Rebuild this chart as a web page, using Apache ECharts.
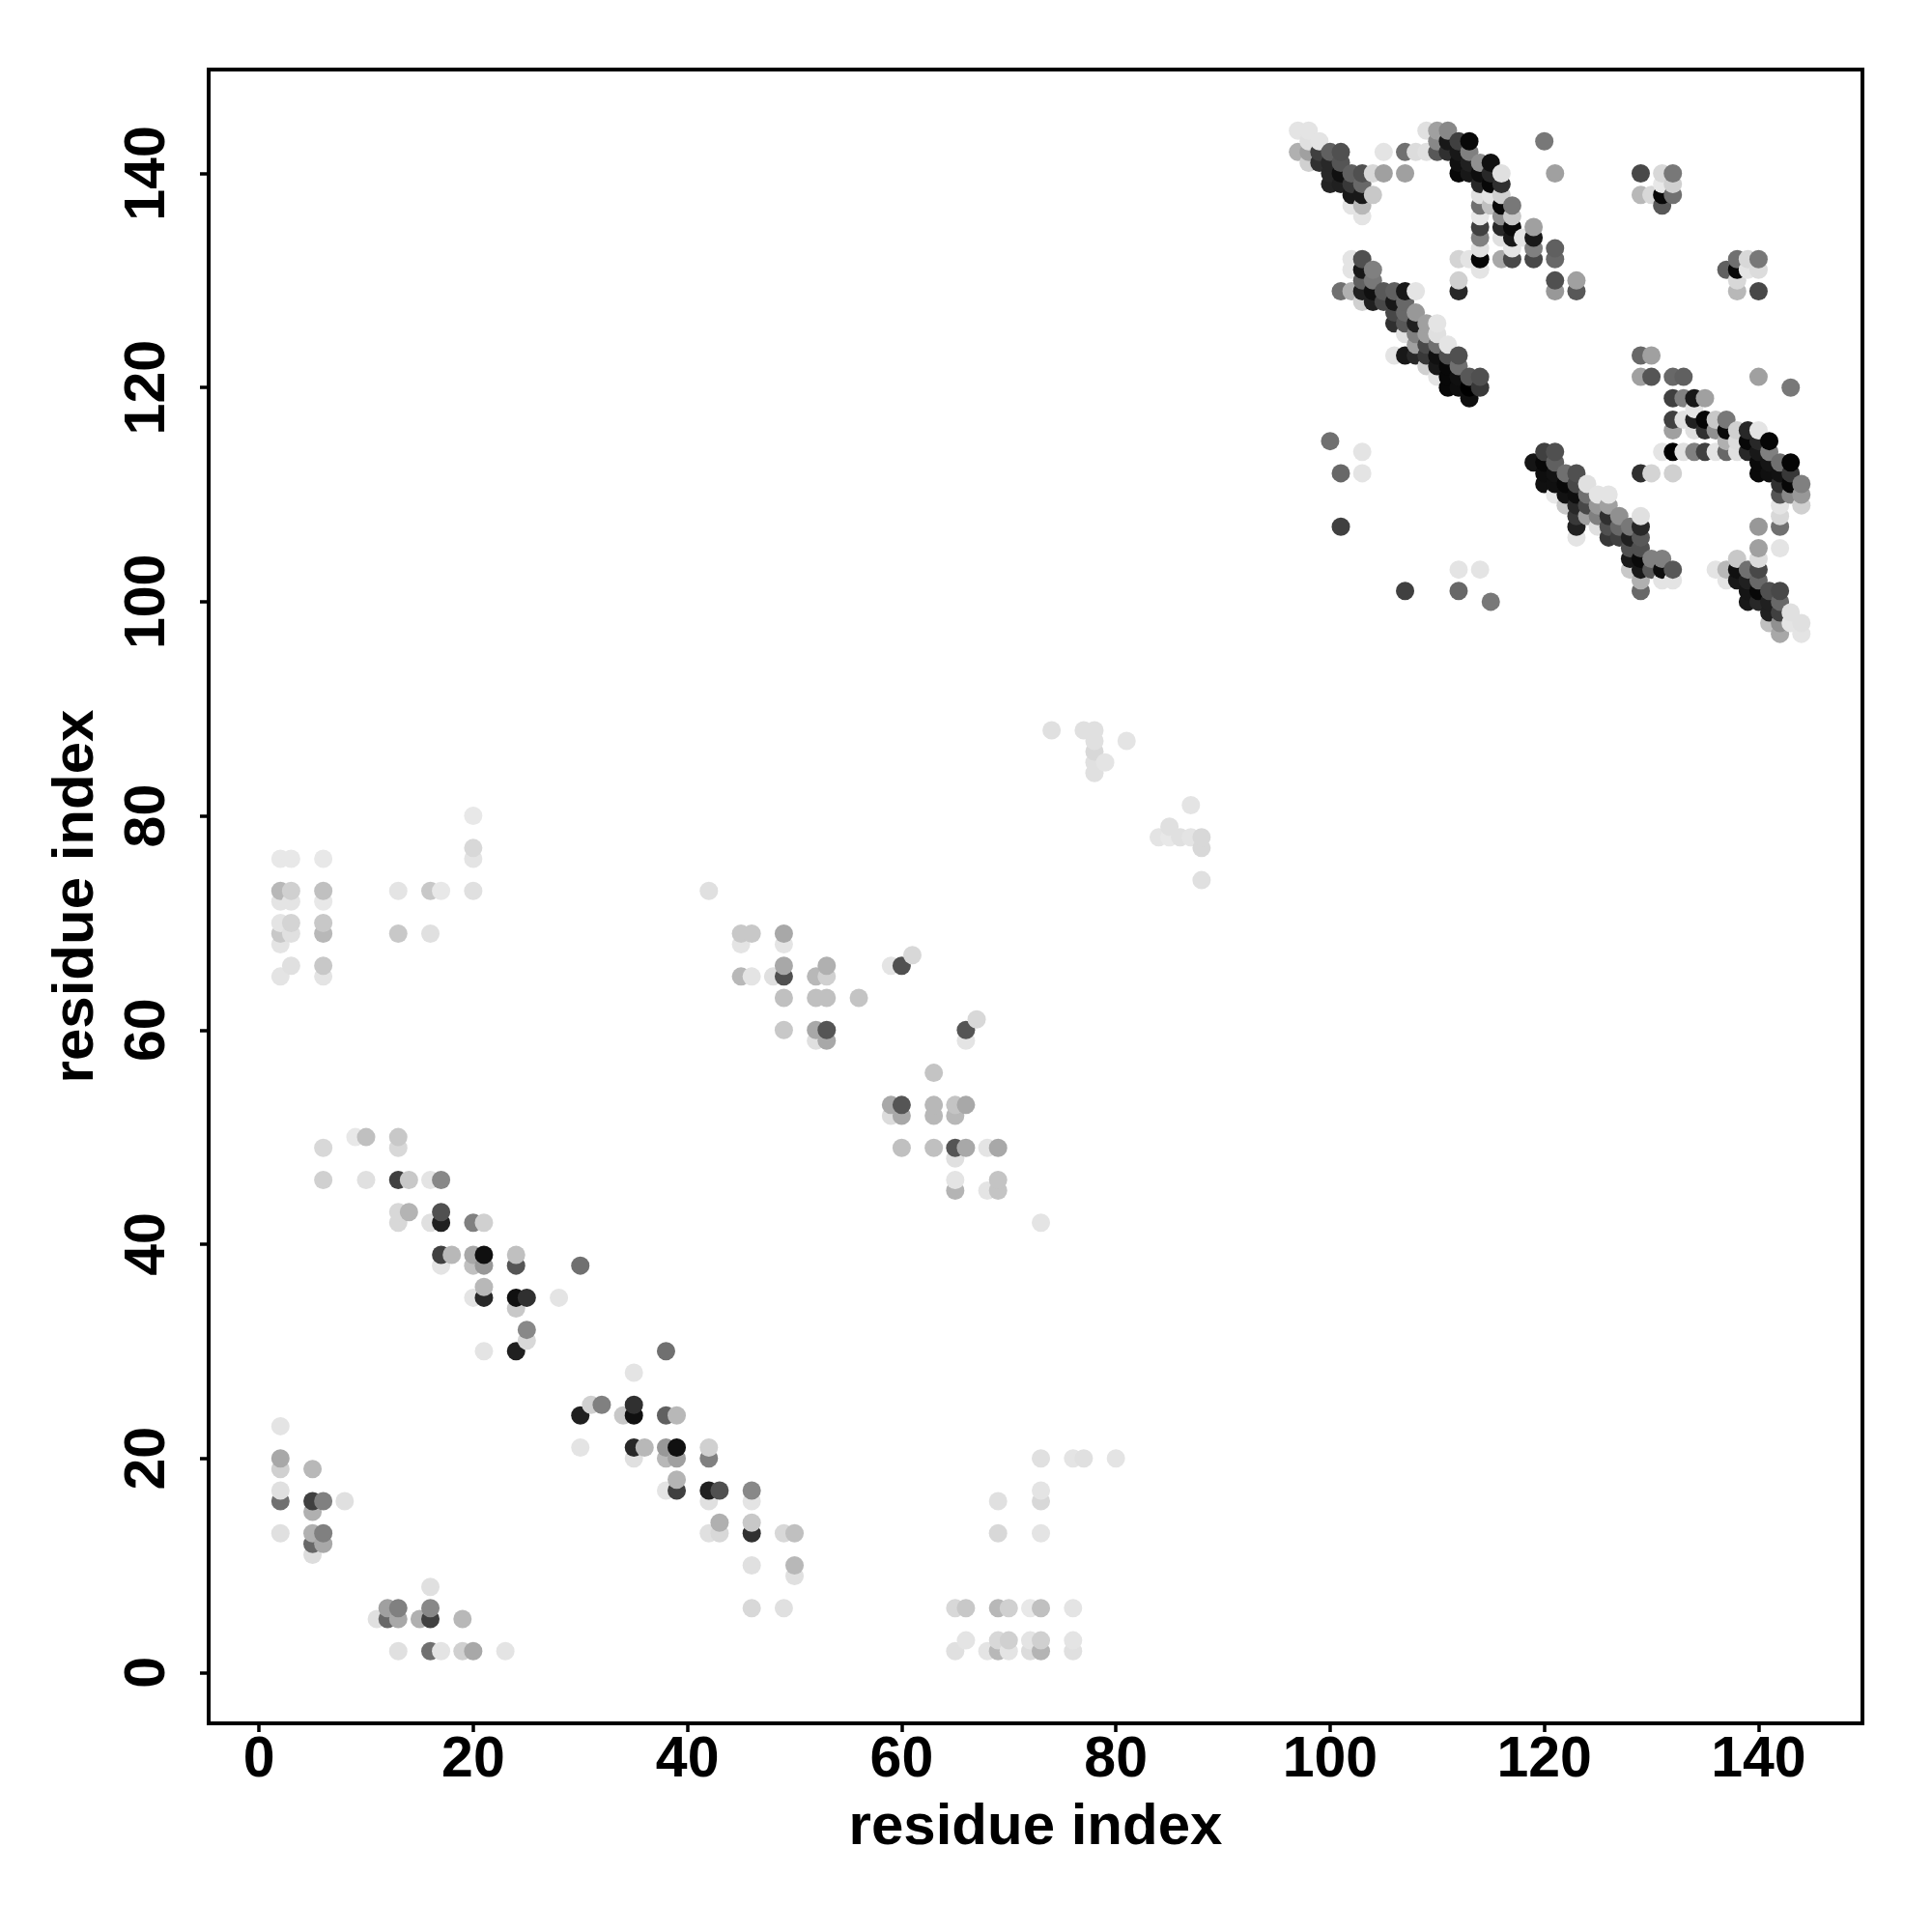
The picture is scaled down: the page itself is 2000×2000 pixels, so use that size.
<!DOCTYPE html>
<html><head><meta charset="utf-8">
<script src="https://cdn.jsdelivr.net/npm/echarts@6/dist/echarts.min.js"></script>
<style>html,body{margin:0;padding:0;background:#fff}#c{width:2000px;height:2000px}</style>
</head><body><div id="c"></div>
<script>
// each contact: [residue x, residue y, grey level 0-255]
const tickValues = [0,20,40,60,80,100,120,140];
const axisTitle = "residue index";
const lowerLeft = [
[2,23,228],[2,20,168],[2,19,208],[2,17,224],[2,16,112],[2,13,224],[5,19,184],[5,16,64],[5,15,176],[5,13,176],[5,12,104],[5,11,221],[6,16,128],[6,13,128],[6,12,168],[8,16,224],
[16,8,224],[12,6,160],[13,6,128],[16,6,136],[11,5,224],[12,5,104],[13,5,168],[15,5,176],[16,5,64],[19,5,184],[13,2,224],[16,2,112],[17,2,228],[19,2,208],[20,2,168],[23,2,228]];
const diagonalLow = [
[30,24,32],[31,25,208],[32,25,128],[30,21,228],[34,24,200],[35,24,16],[35,25,48],[35,21,40],[35,20,224],[35,28,228],[38,30,112],[38,24,96],[39,24,184],
[36,21,184],[38,21,152],[39,21,16],[38,20,184],[39,20,160],[42,20,128],[42,21,208],[39,18,180],[39,17,64],[38,17,228],[42,17,32],[43,17,80],[46,17,136],[42,16,224],[46,16,228],
[43,14,176],[46,14,200],[42,13,224],[43,13,216],[46,13,48],[49,13,216],[50,13,192],[50,10,184],[50,9,224],[46,10,224],[46,6,216],[49,6,224]];
const diagonalMid = [
[6,49,216],[9,50,232],[10,50,192],[13,50,200],[13,49,216],[6,46,208],[10,46,224],[13,46,64],[14,46,200],[16,46,228],[17,46,136],
[13,43,216],[14,43,180],[17,43,80],[13,42,216],[16,42,224],[17,42,32],[20,42,128],[21,42,208],[17,39,64],[18,39,184],[20,39,168],[21,39,16],[24,39,192],
[17,38,228],[20,38,192],[21,38,152],[24,38,85],[30,38,112],[21,36,184],[20,35,228],[21,35,40],[24,35,16],[25,35,48],[28,35,228],[24,34,200],[25,32,136],[25,31,216],[21,30,228],[24,30,32]];
const centreCluster = [
[45,69,200],[46,69,200],[49,69,168],[45,68,228],[49,68,228],[49,66,168],[53,66,176],[60,66,80],[59,66,228],[61,67,216],
[45,65,184],[46,65,228],[48,65,224],[49,65,80],[52,65,184],[53,65,208],[49,63,192],[52,63,192],[53,63,192],[56,63,196],
[49,60,200],[52,60,168],[53,60,85],[66,60,85],[67,61,216],[66,59,228],[52,59,224],[53,59,168],[63,56,196],
[59,53,168],[60,53,85],[63,53,184],[65,53,196],[66,53,168],[59,52,220],[60,52,168],[63,52,184],[65,52,184],
[60,49,192],[63,49,192],[65,49,85],[66,49,168],[68,49,228],[69,49,168],[65,48,224],[65,46,228],[69,46,196],[65,45,180],[68,45,228],[69,45,196],[73,42,228]];
const upperLeft = [
[20,80,232],[20,77,216],[20,76,228],[2,76,232],[3,76,232],[6,76,232],[2,73,184],[3,73,208],[6,73,192],[13,73,228],[16,73,200],[17,73,232],[20,73,224],
[2,72,228],[3,72,228],[6,72,232],[2,70,228],[3,70,212],[6,70,200],[2,69,200],[3,69,224],[6,69,184],[13,69,200],[16,69,224],[2,68,228],[3,66,224],[6,66,200],[2,65,228],[6,65,228],[42,73,224]];
const lowerMiddle = [
[65,6,216],[66,6,200],[69,6,184],[70,6,208],[72,6,232],[73,6,192],[76,6,228],[66,3,228],[69,3,216],[70,3,208],[72,3,228],[73,3,208],[76,3,228],
[65,2,224],[68,2,228],[69,2,184],[70,2,228],[72,2,220],[73,2,180],[76,2,224],[69,16,224],[69,13,216],[73,20,224],[73,17,228],[73,16,216],[73,13,228],[76,20,228],[77,20,224],[80,20,228]];
const upperMiddle = [
[74,88,224],[77,88,224],[78,88,224],[78,87,224],[78,86,216],[78,85,224],[78,84,224],[79,85,228],[81,87,228],[84,78,228],[85,79,224],[85,78,232],[86,78,224],[87,81,228],[87,78,228],[88,78,216],[88,77,216],[88,74,224]];
const bandTopLeft = [
[97,144,228],[98,144,228],[98,143,224],[99,143,228],[97,142,176],[98,142,160],[99,142,64],[100,142,96],[101,142,80],[98,141,208],[99,141,48],[100,141,40],[101,141,85],
[100,140,40],[101,140,16],[102,140,96],[103,140,80],[104,140,216],[105,140,160],[107,140,160],[100,139,36],[101,139,32],[102,139,56],[103,139,104],
[102,138,24],[103,138,24],[104,138,200],[102,137,228],[103,137,184],[103,136,228],[105,142,228],[107,142,112],[108,142,220],[109,142,224],[110,142,88],[111,142,48]];
const bandTopRight = [
[109,144,224],[110,144,160],[111,144,136],[110,143,136],[111,143,24],[112,143,64],[113,143,8],[112,142,24],[113,142,128],[112,141,16],[113,141,32],[114,141,144],[115,141,16],
[112,140,8],[113,140,24],[114,140,14],[115,140,40],[116,140,224],[114,139,40],[115,139,8],[116,139,48],[114,138,224],[115,138,228],[116,138,208],
[114,137,112],[115,137,192],[116,137,8],[117,137,120],[114,136,232],[116,136,144],[117,136,200],[114,135,64],[116,135,40],[117,135,10],[119,135,160],
[114,134,128],[116,134,224],[117,134,24],[118,134,228],[119,134,24],[114,133,224],[117,133,228],[119,133,128],[112,132,212],[113,132,228],[114,132,5],[116,132,168],[117,132,72],[119,132,72],
[114,131,228],[112,130,208],[112,129,40],[120,143,120],[121,140,160],[121,133,96],[121,132,104],[121,130,80],[121,129,152],[123,130,160],[123,129,88]];
const smallClusters = [
[129,140,72],[131,140,216],[132,140,120],[131,139,232],[132,139,208],[129,138,184],[130,138,216],[131,138,8],[132,138,112],[131,137,88],
[137,131,96],[138,132,112],[139,132,216],[140,132,120],[138,131,8],[139,131,228],[140,131,220],[138,130,216],[138,129,184],[140,129,72],
[129,123,104],[130,123,160],[143,120,120],[100,115,112],[103,114,228],[101,112,104],[103,112,228],[101,107,64],[107,101,64],[112,103,228],[114,103,228],[112,101,104],[115,100,120]];
const bandMiddle = [
[103,132,80],[102,132,228],[104,131,128],[103,131,24],[102,131,228],[103,130,96],[104,130,120],[101,129,112],[102,129,176],[103,129,32],[104,129,16],[105,129,88],[106,129,96],[107,129,24],[108,129,228],
[103,128,208],[104,128,32],[105,128,72],[106,128,24],[107,128,104],[108,127,152],[106,127,72],[107,127,104],[106,126,48],[107,126,88],[108,126,32],[109,126,160],[110,126,228],
[107,125,224],[108,125,128],[109,125,160],[110,125,224],[108,124,160],[109,124,72],[110,124,112],[111,124,228],[106,123,228],[107,123,24],[108,123,40],[109,123,56],[110,123,16],[111,123,80],[112,123,80],
[109,122,208],[110,122,24],[111,122,8],[112,122,112],[110,121,228],[111,121,8],[112,121,16],[113,121,88],[114,121,80],[111,120,8],[112,120,14],[113,120,0],[114,120,56],[113,119,14]];
const bandRightArc = [
[129,121,160],[130,121,85],[132,121,104],[133,121,96],[140,121,160],[132,119,64],[133,119,128],[134,119,24],[135,119,160],[134,118,228],
[132,117,64],[133,117,224],[134,117,32],[135,117,5],[136,117,200],[137,117,120],[132,116,160],[134,116,224],[135,116,48],[136,116,144],[137,116,10],[138,116,208],[139,116,40],[140,116,228],
[137,115,176],[138,115,220],[139,115,8],[140,115,40],[141,115,5],[131,114,228],[132,114,0],[133,114,224],[134,114,128],[135,114,64],[136,114,228],[137,114,104],[138,114,224],[139,114,40],[140,114,24],[141,114,128],
[140,113,10],[141,113,21],[142,113,112],[143,113,5],[129,112,48],[130,112,212],[132,112,208],[140,112,10],[141,112,16],[142,112,18],[143,112,56],[142,111,48],[143,111,8],[144,111,128],
[142,110,85],[143,110,136],[144,110,152],[142,109,228],[144,109,208],[142,108,216],[140,107,152],[142,107,112],[140,105,160],[142,105,228]];
const bandLowCentre = [
[120,114,64],[121,114,80],[119,113,21],[120,113,8],[121,113,96],[120,112,14],[121,112,18],[122,112,112],[123,112,80],[120,111,16],[121,111,16],[122,111,8],[123,111,72],[124,111,224],
[121,110,232],[122,110,18],[123,110,14],[124,110,112],[125,110,228],[126,110,228],[122,109,200],[123,109,40],[124,109,72],[125,109,152],[126,109,160],[123,108,56],[124,108,160],[125,108,128],[126,108,48],[127,108,144],[129,108,224],
[123,107,32],[125,107,224],[126,107,80],[127,107,104],[128,107,120],[129,107,40],[123,106,228],[126,106,56],[127,106,64],[128,106,32],[129,106,88],[128,105,80],[129,105,80],
[128,104,24],[129,104,10],[130,104,128],[131,104,128],[128,103,200],[129,103,24],[130,103,88],[131,103,14],[132,103,88],[129,102,176],[131,102,228],[132,102,228],[129,101,104]];
const bandLowRight = [
[138,104,200],[140,104,220],[136,103,228],[137,103,184],[138,103,16],[139,103,112],[140,103,72],[137,102,228],[138,102,24],[139,102,32],[140,102,104],
[139,101,21],[140,101,8],[141,101,80],[142,101,72],[139,100,24],[140,100,40],[141,100,32],[142,100,104],[141,99,32],[142,99,64],[143,99,224],[141,98,192],[142,98,144],[143,98,228],[144,98,224],[142,97,168],[144,97,228]];

const contacts = [].concat(lowerLeft, diagonalLow, diagonalMid, centreCluster, upperLeft, lowerMiddle, upperMiddle,
  bandTopLeft, bandTopRight, smallClusters, bandMiddle, bandRightArc, bandLowCentre, bandLowRight)
  .sort((a,b)=>a[0]-b[0]||a[1]-b[1]);

const FONT = '"Liberation Sans", Arial, sans-serif';
function valueAxis(extra){
  return Object.assign({
    type:'value', max:149.7,
    name:axisTitle, nameLocation:'middle',
    nameTextStyle:{fontFamily:FONT,fontWeight:'bold',fontSize:60,color:'#000'},
    splitLine:{show:false},
    axisLine:{show:false,onZero:false},
    axisTick:{show:true,length:9,customValues:tickValues,lineStyle:{color:'#000',width:3.5}}
  },extra);
}
const labelBase = {fontFamily:FONT,fontWeight:'bold',fontSize:59,color:'#000',customValues:tickValues};
const chart = echarts.init(document.getElementById('c'),null,{renderer:'canvas'});
chart.setOption({
  animation:false,
  backgroundColor:'#fff',
  grid:{left:216,right:72,top:72,bottom:216,show:true,borderColor:'#000',borderWidth:4,backgroundColor:'#fff'},
  xAxis:valueAxis({min:-4.7,nameGap:78,axisLabel:Object.assign({},labelBase,{margin:9})}),
  yAxis:valueAxis({min:-4.75,nameGap:107,nameRotate:90,axisLabel:Object.assign({},labelBase,{rotate:90,margin:33})}),
  series:[{
    type:'scatter',
    symbol:'circle',
    symbolSize:19,
    data:contacts,
    itemStyle:{opacity:1,color:p=>{const g=p.data[2];return 'rgb('+g+','+g+','+g+')';}},
    progressive:0,
    silent:true,
    z:5
  }]
});
</script></body></html>
